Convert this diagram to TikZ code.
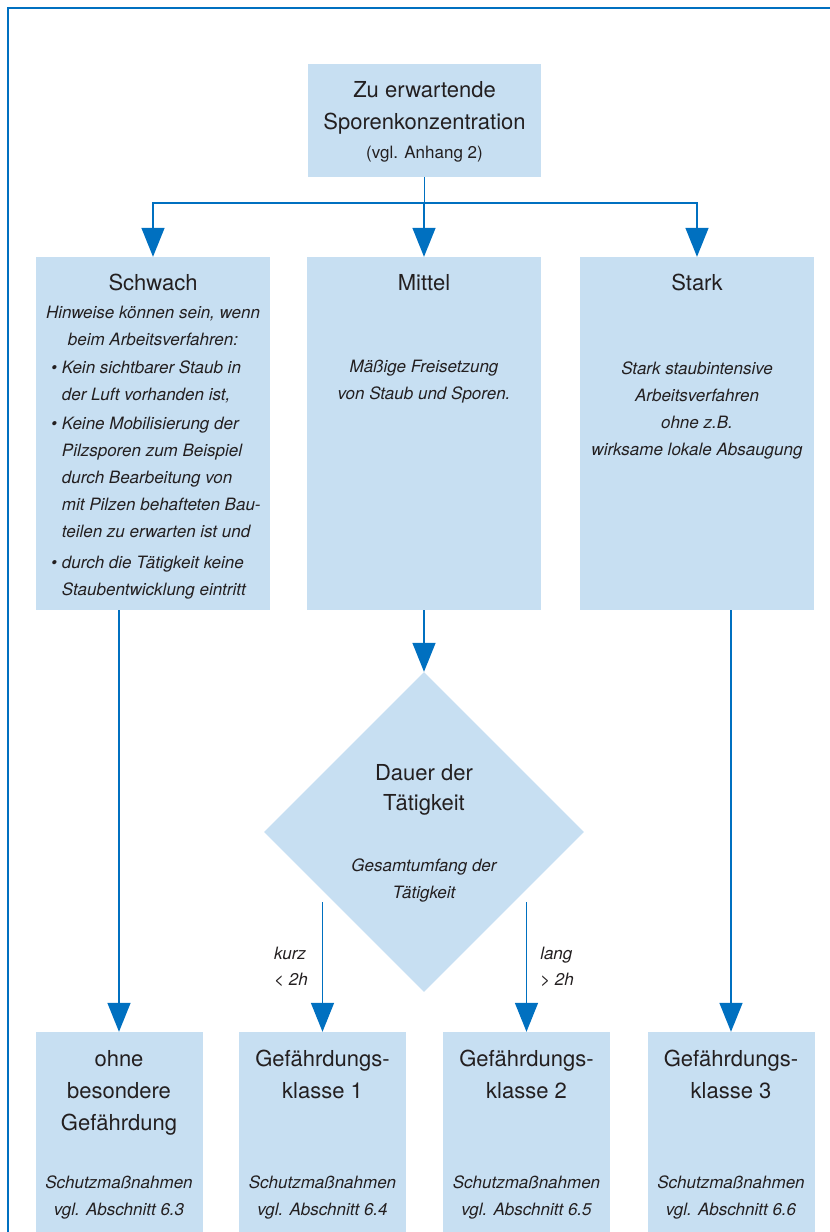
\documentclass[tikz,border=0pt]{standalone}
\usepackage{fontspec}
\setmainfont{TeX Gyre Heros}
\usetikzlibrary{arrows.meta,shapes.geometric,positioning}
\definecolor{boxblue}{RGB}{199,223,242}
\definecolor{lineblue}{RGB}{0,112,192}
\definecolor{inkgray}{RGB}{35,31,32}
\tikzset{
  box/.style={fill=boxblue, inner sep=0pt, minimum width=234pt, minimum height=353pt},
  endbox/.style={fill=boxblue, inner sep=0pt, minimum width=167pt, minimum height=212pt},
  head/.style={anchor=north, inner sep=0pt, align=center, text=inkgray, font=\fontsize{22}{32}\selectfont},
  note/.style={anchor=north, inner sep=0pt, align=center, text=inkgray, font=\fontsize{17}{27}\selectfont\itshape},
  lbl/.style={inner sep=0pt, align=left, text=inkgray, font=\fontsize{17}{26}\selectfont\itshape},
  conn/.style={draw=lineblue, line width=1.5pt},
  arrow/.style={conn, -{Triangle[width=23pt,length=29pt]}},
  frame/.style={draw=lineblue, line width=2pt}
}
\begin{document}
\begin{tikzpicture}[x=1pt,y=-1pt]
    \useasboundingbox (0,0) rectangle (830,1232);
    \clip (0,0) rectangle (830,1232);

    % Draw frame
    \draw[frame] (8,1240) -- (8,8) -- (840,8);

    % Draw boxes
    \node[box, minimum width=233pt, minimum height=113pt] (spore) at (424.5,120.5) {};
    \node[box] (schwach) at (153,433.5) {};
    \node[box] (mittel) at (424,433.5) {};
    \node[box] (stark) at (697,433.5) {};
    \node[diamond, fill=boxblue, inner sep=0pt, minimum width=320pt, minimum height=320pt] (dauer) at (424,832) {};
    \node[endbox] (ohne) at (119,1138) {};
    \node[endbox] (kl1) at (322.5,1138) {};
    \node[endbox] (kl2) at (526.5,1138) {};
    \node[endbox] (kl3) at (731,1138) {};

    % Texts in the top box
    \node[head] (sporehead) at ([yshift=-17pt]spore.north) {Zu erwartende\\Sporenkonzentration};
    \node[note, font=\fontsize{17}{27}\selectfont] (sporenote) at ([yshift=-82pt]spore.north) {(vgl. Anhang 2)};

    % Texts in the second row
    \node[head] (schwachhead) at ([yshift=-17pt]schwach.north) {Schwach};
    \node[note] (schwachnote) at ([yshift=-49pt]schwach.north) {Hinweise können sein, wenn\\beim Arbeitsverfahren:};
    \node[note, anchor=north west] (schwachlist) at ([xshift=15pt,yshift=-98pt]schwach.north west) {%
      \begin{tabular}{@{}l@{\hspace{5pt}}l@{}}
        \textbullet & Kein sichtbarer Staub in\\
                    & der Luft vorhanden ist,\\[2pt]
        \textbullet & Keine Mobilisierung der\\
                    & Pilzsporen zum Beispiel\\
                    & durch Bearbeitung von\\
                    & mit Pilzen behafteten Bau-\\
                    & teilen zu erwarten ist und\\[4pt]
        \textbullet & durch die Tätigkeit keine\\
                    & Staubentwicklung eintritt
      \end{tabular}};
    \node[head] (mittelhead) at ([yshift=-17pt]mittel.north) {Mittel};
    \node[note] (mittelnote) at ([yshift=-103pt]mittel.north) {Mäßige Freisetzung\\von Staub und Sporen.};
    \node[head] (starkhead) at ([yshift=-17pt]stark.north) {Stark};
    \node[note] (starknote) at ([yshift=-105pt]stark.north) {Stark staubintensive\\Arbeitsverfahren\\ohne z.B.\\wirksame lokale Absaugung};

    % Texts in the diamond
    \node[head, font=\fontsize{22}{30}\selectfont] (dauerhead) at ([yshift=68pt]dauer.center) {Dauer der\\Tätigkeit};
    \node[note] (dauernote) at ([yshift=-27pt]dauer.center) {Gesamtumfang der\\Tätigkeit};

    % Texts in the bottom row
    \node[head] (ohnehead) at ([yshift=-18pt]ohne.north) {ohne\\besondere\\Gefährdung};
    \foreach \n/\k in {kl1/1, kl2/2, kl3/3}
      \node[head] (\n-head) at ([yshift=-18pt]\n.north) {Gefährdungs-\\klasse \k};
    \foreach \n/\s in {ohne/6.3, kl1/6.4, kl2/6.5, kl3/6.6}
      \node[note] (\n-note) at ([yshift=-144pt]\n.north) {Schutzmaßnahmen\\vgl. Abschnitt \s};

    % Draw connectors
    \coordinate (fork) at ([yshift=-26pt]spore.south);
    \draw[conn] (spore.south) -- (fork);
    \foreach \n in {schwach, mittel, stark}
      \draw[arrow] (fork) -| (\n.north);
    \draw[arrow] (mittel.south) -- (dauer.north);
    \draw[arrow] (schwach.south -| ohne.north) -- (ohne.north);
    \draw[arrow] (stark.south -| kl3.north) -- (kl3.north);
    \coordinate (dauerlow) at ([yshift=-70pt]dauer.center);
    \draw[arrow] (dauerlow -| kl1.north) -- (kl1.north) node[lbl, midway, left=14pt] {kurz\\< 2h};
    \draw[arrow] (dauerlow -| kl2.north) -- (kl2.north) node[lbl, midway, right=13pt] {lang\\> 2h};
\end{tikzpicture}
\end{document}
